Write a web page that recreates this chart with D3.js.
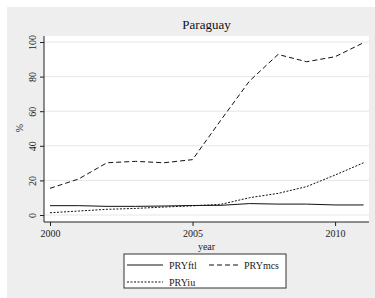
<!DOCTYPE html>
<html>
<head>
<meta charset="utf-8">
<script src="https://cdn.jsdelivr.net/npm/d3@7"></script>
<style>
  body { margin: 0; background: #fff; }
  svg { display: block; font-family: "Liberation Serif", "DejaVu Serif", serif; }
</style>
</head>
<body>
<div id="chart"></div>
<script>
// values
var years = [2000, 2001, 2002, 2003, 2004, 2005, 2006, 2007, 2008, 2009, 2010, 2011]
var ftl = [5.4, 5.4, 5.0, 5.0, 5.2, 5.5, 5.6, 6.6, 6.3, 6.3, 5.8, 5.8]
var mcs = [15.4, 20.8, 30.2, 31.0, 30.2, 32.0, 55.0, 77.5, 92.8, 88.6, 91.5, 99.6]
var iu = [1.3, 2.3, 3.3, 3.8, 4.6, 5.3, 6.2, 10.0, 12.5, 16.4, 23.1, 30.2]
var yTicks = [0, 20, 40, 60, 80, 100]
var xTicks = [2000, 2005, 2010]
var seriesNames = ['PRYftl', 'PRYmcs', 'PRYiu']

var W = 375, H = 298
var plot = {left: 44, right: 369, top: 36, bottom: 222}

var svg = d3.select('#chart').append('svg').attr('width', W).attr('height', H)

// stata grey background
svg.append('rect').attr('x', 7).attr('y', 7).attr('width', W - 7).attr('height', H - 7).attr('fill', '#eeeeee')
svg.append('rect').attr('x', plot.left).attr('y', plot.top)
  .attr('width', plot.right - plot.left).attr('height', plot.bottom - plot.top).attr('fill', '#fff')

var x = d3.scaleLinear().domain([2000, 2011]).range([50, 363.6])
var y = d3.scaleLinear().domain([0, 100]).range([215, 42])

// grid
svg.append('g').selectAll('line').data(yTicks).enter().append('line')
  .attr('x1', plot.left).attr('x2', plot.right)
  .attr('y1', d => y(d)).attr('y2', d => y(d))
  .attr('stroke', '#e6e6e6').attr('stroke-width', 1)

// y axis
var yAxis = d3.axisLeft(y).tickValues(yTicks).tickSize(4).tickPadding(3)
var gy = svg.append('g').attr('transform', `translate(${plot.left},0)`).call(yAxis)
gy.select('.domain').remove()
gy.append('line').attr('x1', 0).attr('x2', 0).attr('y1', plot.top).attr('y2', plot.bottom).attr('stroke', '#222')
gy.selectAll('.tick line').attr('stroke', '#222')
gy.selectAll('.tick text')
  .attr('font-size', 10).attr('fill', '#222').attr('font-family', '"Liberation Serif", serif')
  .attr('transform', 'rotate(-90,-10,0)')
  .attr('x', -10).attr('y', 0).attr('dy', '0').attr('text-anchor', 'middle')
  .attr('dominant-baseline', 'middle')

// x axis
var xAxis = d3.axisBottom(x).tickValues(xTicks).tickFormat(d3.format('d')).tickSize(4).tickPadding(4)
var gx = svg.append('g').attr('transform', `translate(0,${plot.bottom})`).call(xAxis)
gx.select('.domain').remove()
gx.append('line').attr('x1', plot.left).attr('x2', plot.right).attr('y1', 0).attr('y2', 0).attr('stroke', '#222')
gx.selectAll('.tick line').attr('stroke', '#222')
gx.selectAll('.tick text').attr('font-size', 10).attr('fill', '#222').attr('font-family', '"Liberation Serif", serif')

// titles
svg.append('text').attr('x', (plot.left + plot.right) / 2).attr('y', 29)
  .attr('text-anchor', 'middle').attr('font-size', 13).attr('fill', '#111').text('Paraguay')
svg.append('text').attr('x', (plot.left + plot.right) / 2).attr('y', 250)
  .attr('text-anchor', 'middle').attr('font-size', 10).attr('fill', '#222').text('year')
svg.append('text').attr('transform', 'translate(23,128) rotate(-90)')
  .attr('text-anchor', 'middle').attr('font-size', 10).attr('fill', '#222').text('%')

// lines
var dashes = ['none', '5,3', '2,1.5']
var allSeries = [ftl, mcs, iu]
var line = d3.line().x((d, i) => x(years[i])).y(d => y(d))
svg.append('g').selectAll('path').data(allSeries).enter().append('path')
  .attr('d', d => line(d)).attr('fill', 'none').attr('stroke', '#111')
  .attr('stroke-width', 1).attr('stroke-dasharray', (d, i) => dashes[i])

// legend
var lg = svg.append('g')
lg.append('rect').attr('x', 124).attr('y', 254).attr('width', 162).attr('height', 34)
  .attr('fill', '#fff').attr('stroke', '#333').attr('stroke-width', 1)
var legendPos = [[127, 265], [209, 265], [127, 282]]
var items = lg.selectAll('g.item').data(seriesNames).enter().append('g').attr('class', 'item')
  .attr('transform', (d, i) => `translate(${legendPos[i][0]},${legendPos[i][1]})`)
items.append('line').attr('x1', 0).attr('x2', (d, i) => i == 1 ? 31 : 36).attr('y1', 0).attr('y2', 0)
  .attr('stroke', '#111').attr('stroke-width', 1).attr('stroke-dasharray', (d, i) => dashes[i])
items.append('text').attr('x', (d, i) => i == 1 ? 35 : 42).attr('y', 0).attr('dy', '0.35em')
  .attr('font-size', 10).attr('fill', '#222').text(d => d)
</script>
</body>
</html>
